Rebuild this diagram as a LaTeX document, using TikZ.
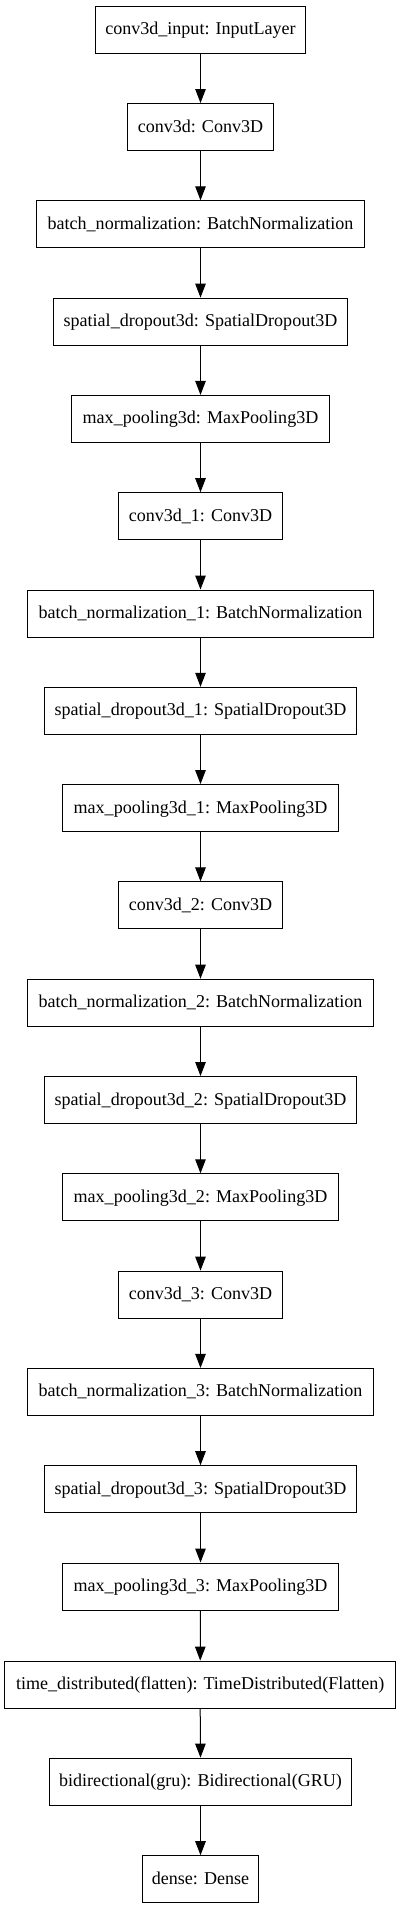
\documentclass[tikz,border=0pt]{standalone}
\usepackage{fontspec}
\setmainfont{Liberation Serif}
\usetikzlibrary{arrows.meta}
\begin{document}
\begin{tikzpicture}[x=1pt,y=-1pt,
  layer/.style={draw=black, line width=1pt, minimum height=47pt, inner sep=0pt,
    font=\fontsize{18.05}{20}\selectfont, text height=13pt, text depth=3pt},
  flow/.style={line width=1pt, -{Triangle[length=14pt,width=10.5pt]}}]
\useasboundingbox (0,0) rectangle (401,1909);
\fill[white] (0,0) rectangle (401,1909);
\node[layer, minimum width=210pt] (n0) at (200.5,29.7) {conv3d\_input: InputLayer};
\node[layer, minimum width=146pt] (n1) at (200.5,127.0) {conv3d: Conv3D};
\node[layer, minimum width=327.5pt] (n2) at (200.5,224.3) {batch\_normalization: BatchNormalization};
\node[layer, minimum width=294pt] (n3) at (200.5,321.6) {spatial\_dropout3d: SpatialDropout3D};
\node[layer, minimum width=258pt] (n4) at (200.5,418.9) {max\_pooling3d: MaxPooling3D};
\node[layer, minimum width=163.5pt] (n5) at (200.5,516.2) {conv3d\_1: Conv3D};
\node[layer, minimum width=346pt] (n6) at (200.5,613.5) {batch\_normalization\_1: BatchNormalization};
\node[layer, minimum width=311.5pt] (n7) at (200.5,710.8) {spatial\_dropout3d\_1: SpatialDropout3D};
\node[layer, minimum width=275.5pt] (n8) at (200.5,808.1) {max\_pooling3d\_1: MaxPooling3D};
\node[layer, minimum width=163.5pt] (n9) at (200.5,905.4) {conv3d\_2: Conv3D};
\node[layer, minimum width=346pt] (n10) at (200.5,1002.7) {batch\_normalization\_2: BatchNormalization};
\node[layer, minimum width=311.5pt] (n11) at (200.5,1100.0) {spatial\_dropout3d\_2: SpatialDropout3D};
\node[layer, minimum width=275.5pt] (n12) at (200.5,1197.3) {max\_pooling3d\_2: MaxPooling3D};
\node[layer, minimum width=163.5pt] (n13) at (200.5,1294.6) {conv3d\_3: Conv3D};
\node[layer, minimum width=346pt] (n14) at (200.5,1391.9) {batch\_normalization\_3: BatchNormalization};
\node[layer, minimum width=311.5pt] (n15) at (200.5,1489.2) {spatial\_dropout3d\_3: SpatialDropout3D};
\node[layer, minimum width=275.5pt] (n16) at (200.5,1586.5) {max\_pooling3d\_3: MaxPooling3D};
\node[layer, minimum width=390.5pt] (n17) at (200.2,1684.6) {time\_distributed(flatten): TimeDistributed(Flatten)};
\node[layer, minimum width=302pt] (n18) at (200.5,1781.6) {bidirectional(gru): Bidirectional(GRU)};
\node[layer, minimum width=116.5pt] (n19) at (200.5,1879.2) {dense: Dense};
\foreach \a/\b in {n0/n1,n1/n2,n2/n3,n3/n4,n4/n5,n5/n6,n6/n7,n7/n8,n8/n9,n9/n10,n10/n11,n11/n12,n12/n13,n13/n14,n14/n15,n15/n16,n16/n17,n17/n18,n18/n19}
  \draw[flow] (\a.south) -- (\b.north);
\end{tikzpicture}
\end{document}
